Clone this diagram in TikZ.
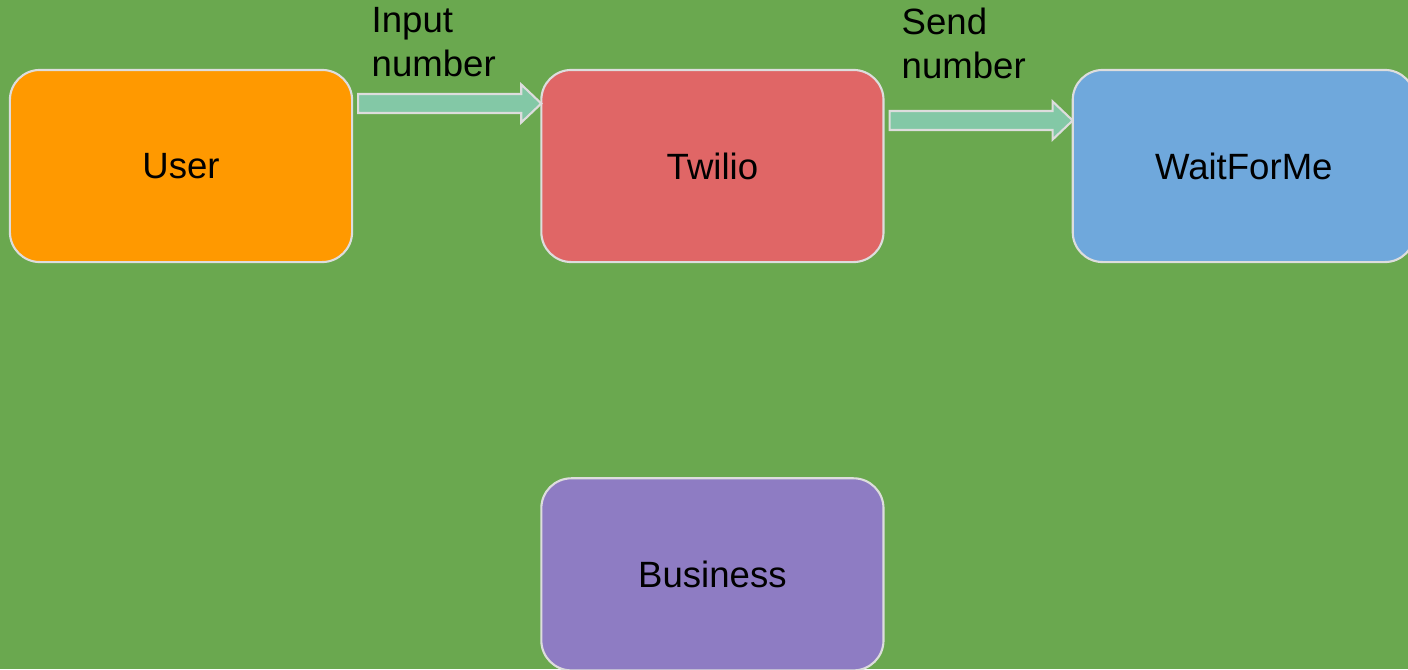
\documentclass[tikz,border=0pt]{standalone}
\usepackage{fontspec}
\setmainfont{Liberation Sans}
\usetikzlibrary{positioning,calc}

\definecolor{bggreen}{HTML}{6AA84F}
\definecolor{userorange}{HTML}{FF9900}
\definecolor{twiliored}{HTML}{E06666}
\definecolor{waitblue}{HTML}{6FA8DC}
\definecolor{businesspurple}{HTML}{8E7CC3}
\definecolor{arrowgreen}{HTML}{83C8A6}
\definecolor{edgegray}{HTML}{DDDDDD}

\tikzset{
  box/.style={draw=edgegray, line width=0.6pt, rounded corners=0.3cm,
    minimum width=3.42cm, minimum height=1.92cm, inner sep=0pt,
    font=\fontsize{10.4pt}{12.5pt}\selectfont},
  blockarrow/.style={fill=arrowgreen, draw=edgegray, line width=0.6pt},
  note/.style={anchor=north west, inner sep=0pt, align=left,
    font=\fontsize{10.4pt}{12.5pt}\selectfont}
}

% block arrow from east of #1 to west of #2, shifted by #3 (px)
\newcommand{\blockarrow}[3]{
  \draw[blockarrow] ($(#1.east)+(5,#3-9.5)$) -- ($(#2.west)+(-19,#3-9.5)$)
    -- ($(#2.west)+(-19,#3-19)$) -- ($(#2.west)+(1,#3)$)
    -- ($(#2.west)+(-19,#3+19)$) -- ($(#2.west)+(-19,#3+9.5)$)
    -- ($(#1.east)+(5,#3+9.5)$) -- cycle;
}

\begin{document}
\begin{tikzpicture}[x=0.01cm, y=-0.01cm]
  \useasboundingbox (0,0) rectangle (1408,669);
  \clip (0,0) rectangle (1408,669);
  \fill[bggreen] (0,0) rectangle (1408,669);

  \node[box, fill=userorange] (user) at (181,166) {User};
  \node[box, fill=twiliored, right=1.87cm of user] (twilio) {Twilio};
  \node[box, fill=waitblue, right=1.87cm of twilio] (waitforme) {WaitForMe};
  \node[box, fill=businesspurple, below=2.14cm of twilio] (business) {Business};

  \blockarrow{user}{twilio}{-62.5}
  \blockarrow{twilio}{waitforme}{-45.5}

  \node[note] (inputlabel) at (371,7) {Input\\number};
  \node[note] (sendlabel) at (901,7) {Send\\number};
\end{tikzpicture}
\end{document}
